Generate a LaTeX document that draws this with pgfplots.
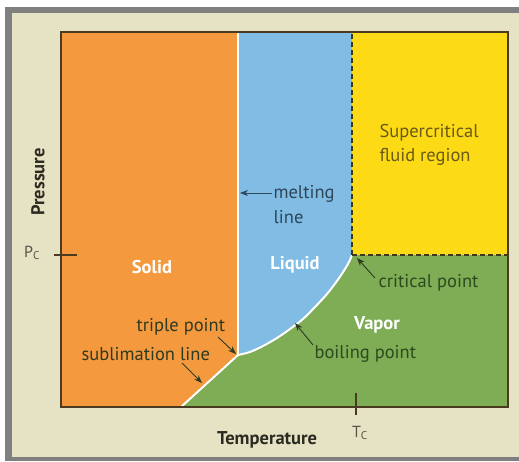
\documentclass[border=0pt]{standalone}
\usepackage{pgfplots}
\pgfplotsset{compat=1.18}
\usepackage{fontspec}
\setmainfont{PT Sans}
\usetikzlibrary{arrows.meta}
\definecolor{solidc}{HTML}{F4993D}
\definecolor{liquidc}{HTML}{80BCE4}
\definecolor{superc}{HTML}{FCDB16}
\definecolor{vaporc}{HTML}{7EAD55}
\definecolor{beige}{HTML}{E6E2C4}
\definecolor{framegray}{HTML}{808080}
\definecolor{framec}{HTML}{4A3A22}
\definecolor{dashc}{HTML}{3C3A1E}
\definecolor{labc}{HTML}{2E3A22}
\definecolor{meltc}{HTML}{2E4658}
\definecolor{scfc}{HTML}{6A5A18}
\definecolor{greentxt}{HTML}{2C4A1E}
\definecolor{axtxt}{HTML}{2B2B22}
\definecolor{pctxt}{HTML}{555548}
\begin{document}
\begin{tikzpicture}[x=1pt,y=1pt]
\fill[white] (0,0) rectangle (519,461);
\fill[framegray] (5,0) rectangle (519,454);
\fill[beige] (12,4) rectangle (519,448);
\begin{axis}[
  at={(61pt,54pt)}, anchor=south west,
  scale only axis, width=447pt, height=375pt,
  xmin=61, xmax=508, ymin=54, ymax=429,
  axis on top, clip=false, ticks=none,
  axis line style={draw=framec, line width=2.2pt},
  xlabel={\textbf{Temperature}}, ylabel={\textbf{Pressure}},
  xlabel style={at={(axis description cs:0.461,-0.088)}, anchor=center, text=axtxt, font=\fontsize{18.5}{20}\selectfont},
  ylabel style={at={(axis description cs:-0.0515,0.6)}, anchor=center, text=axtxt, font=\fontsize{18.5}{20}\selectfont},
  every axis plot/.append style={line join=round},
]
% Solid region
\addplot[fill=solidc, draw=none] coordinates {(61,54) (181,54) (238,106) (238,429) (61,429)};
% Liquid region
\addplot[fill=liquidc, draw=none] coordinates {(238,106) (250,109) (263,115) (277,123) (290,132) (303,142) (315,154) (327,167) (337,180) (345,192) (349,199) (352,206) (352,429) (238,429)};
% Supercritical region
\addplot[fill=superc, draw=none] coordinates {(352,206) (508,206) (508,429) (352,429)};
% Vapor region
\addplot[fill=vaporc, draw=none] coordinates {(181,54) (508,54) (508,206) (352,206) (349,199) (345,192) (337,180) (327,167) (315,154) (303,142) (290,132) (277,123) (263,115) (250,109) (238,106)};
% phase boundaries
\addplot[white, line width=2.8pt] coordinates {(238,106) (238,429)};
\addplot[white, line width=2pt] coordinates {(181,54) (238,106)};
\addplot[white, line width=2pt, smooth] coordinates {(238,106) (250,109) (263,115) (277,123) (290,132) (303,142) (315,154) (327,167) (337,180) (345,192) (349,199) (352,206)};
% critical dashed lines
\addplot[dashc, line width=1.4pt, dash pattern=on 5pt off 3pt] coordinates {(352,206) (352,429)};
\addplot[dashc, line width=1.4pt, dash pattern=on 5pt off 3pt] coordinates {(352,206) (508,206)};
% Pc and Tc ticks
\addplot[framec, line width=1.6pt] coordinates {(54,206) (77,206)};
\addplot[framec, line width=1.6pt] coordinates {(356,46) (356,68)};
% labels
\node[text=pctxt, font=\fontsize{16}{18}\selectfont] at (axis cs:32,208) {P\textsubscript{C}};
\node[text=pctxt, font=\fontsize{16}{18}\selectfont] at (axis cs:360,28) {T\textsubscript{C}};
\node[text=white, font=\bfseries\fontsize{18.5}{20}\selectfont] at (axis cs:152,194) {Solid};
\node[text=white, font=\bfseries\fontsize{18.5}{20}\selectfont] at (axis cs:295,196) {Liquid};
\node[text=white, font=\bfseries\fontsize{18.5}{20}\selectfont] at (axis cs:377,136) {Vapor};
\node[text=scfc, font=\fontsize{18.5}{24}\selectfont, align=left, anchor=west] at (axis cs:376,316) {Supercritical\\fluid region};
\node[text=meltc, font=\fontsize{18.5}{25}\selectfont, align=left, anchor=west] at (axis cs:270,256) {melting\\line};
\draw[meltc, line width=0.9pt, -{Stealth[length=8pt,width=6pt]}] (axis cs:272,268) -- (axis cs:240,268);
\node[text=greentxt, font=\fontsize{18.5}{20}\selectfont, anchor=west] at (axis cs:375,178) {critical point};
\draw[labc, line width=0.9pt, -{Stealth[length=8pt,width=6pt]}] (axis cs:375,183) -- (axis cs:357,203);
\node[text=greentxt, font=\fontsize{18.5}{20}\selectfont, anchor=west] at (axis cs:311,107) {boiling point};
\draw[labc, line width=0.9pt, -{Stealth[length=8pt,width=6pt]}] (axis cs:313,116) -- (axis cs:295,138);
\node[text=labc, font=\fontsize{18.5}{20}\selectfont, anchor=west] at (axis cs:133,134) {triple point};
\draw[labc, line width=0.9pt, -{Stealth[length=8pt,width=6pt]}] (axis cs:218,124) -- (axis cs:236,107);
\node[text=labc, font=\fontsize{18.5}{20}\selectfont, anchor=west] at (axis cs:78,107) {sublimation line};
\draw[labc, line width=0.9pt, -{Stealth[length=8pt,width=6pt]}] (axis cs:182,98) -- (axis cs:202,78);
\end{axis}
\end{tikzpicture}
\end{document}
